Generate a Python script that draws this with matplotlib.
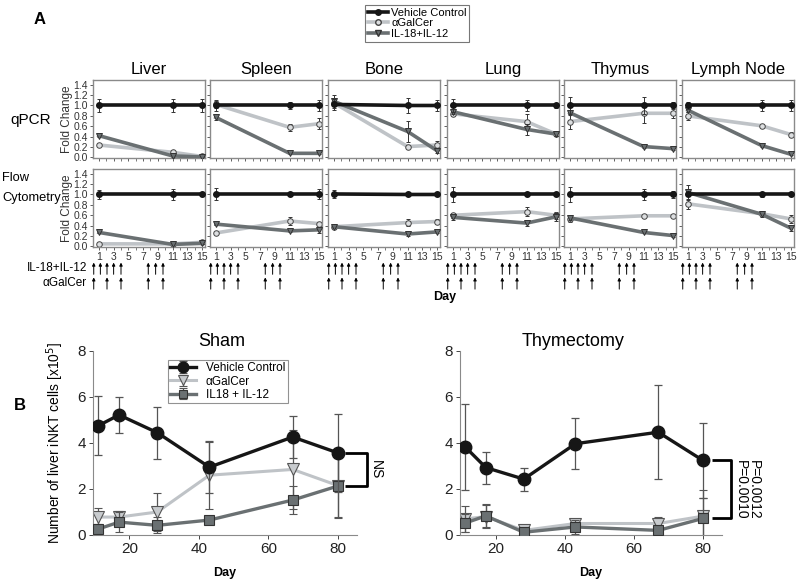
import numpy as np
import matplotlib.pyplot as plt
import matplotlib.transforms as mtransforms
from matplotlib.lines import Line2D

# ---- panel A data (fold change, days 1 / 11 / 15) ----
tissues = ["Liver", "Spleen", "Bone", "Lung", "Thymus", "Lymph Node"]
days_a = [1, 11, 15]

qpcr_veh = [[1.0, 1.0, 1.0], [1.0, 1.0, 1.0], [1.02, 1.0, 1.0],
            [1.0, 1.0, 1.0], [1.0, 1.0, 1.0], [1.0, 1.0, 1.0]]
qpcr_veh_err = [[0.12, 0.13, 0.13], [0.1, 0.06, 0.1], [0.1, 0.15, 0.1],
                [0.12, 0.1, 0.05], [0.17, 0.17, 0.06], [0.06, 0.1, 0.1]]
qpcr_gal = [[0.24, 0.10, 0.02], [1.02, 0.58, 0.65], [1.05, 0.21, 0.24],
            [0.84, 0.69, 0.45], [0.69, 0.85, 0.85], [0.80, 0.61, 0.44]]
qpcr_gal_err = [[0.02, 0.03, 0.02], [0.07, 0.07, 0.1], [0.05, 0.03, 0.08],
                [0.05, 0.15, 0.03], [0.15, 0.18, 0.1], [0.07, 0.03, 0.05]]
qpcr_il = [[0.42, 0.03, 0.01], [0.77, 0.08, 0.08], [1.08, 0.50, 0.13],
           [0.88, 0.54, 0.45], [0.86, 0.21, 0.17], [0.91, 0.23, 0.06]]
qpcr_il_err = [[0.03, 0.02, 0.01], [0.05, 0.02, 0.02], [0.12, 0.2, 0.05],
               [0.04, 0.1, 0.03], [0.04, 0.02, 0.02], [0.04, 0.02, 0.02]]

flow_veh = [[1.0, 1.0, 1.0], [1.01, 1.01, 1.01], [1.01, 1.0, 1.0],
            [1.0, 1.0, 1.0], [1.0, 1.0, 1.0], [1.0, 1.0, 1.0]]
flow_veh_err = [[0.08, 0.1, 0.03], [0.12, 0.02, 0.1], [0.08, 0.02, 0.02],
                [0.15, 0.02, 0.03], [0.15, 0.1, 0.07], [0.03, 0.04, 0.03]]
flow_gal = [[0.05, 0.05, 0.08], [0.26, 0.49, 0.44], [0.38, 0.46, 0.48],
            [0.60, 0.67, 0.60], [0.53, 0.59, 0.59], [0.82, 0.63, 0.53]]
flow_gal_err = [[0.02, 0.02, 0.02], [0.02, 0.08, 0.03], [0.03, 0.06, 0.05],
                [0.05, 0.08, 0.07], [0.05, 0.03, 0.03], [0.1, 0.03, 0.08]]
flow_il = [[0.27, 0.04, 0.06], [0.43, 0.30, 0.32], [0.38, 0.24, 0.28],
           [0.56, 0.45, 0.57], [0.55, 0.27, 0.21], [1.04, 0.62, 0.35]]
flow_il_err = [[0.02, 0.02, 0.02], [0.02, 0.03, 0.06], [0.02, 0.03, 0.03],
               [0.05, 0.06, 0.08], [0.05, 0.02, 0.02], [0.15, 0.06, 0.06]]

# dosing days shown as arrows
il_dose_days = [0.3, 1.2, 2.1, 3.0, 4.0, 7.7, 8.7, 9.7]
gal_dose_days = [0.3, 2.1, 4.0, 7.7, 9.7]

# ---- panel B data (liver iNKT cells x10^5) ----
b_days = [11, 17, 28, 43, 67, 80]
sham_veh = [4.75, 5.22, 4.45, 2.95, 4.26, 3.57]
sham_veh_err = [1.28, 0.8, 1.13, 1.12, 0.9, 1.68]
sham_gal = [0.78, 0.78, 1.0, 2.6, 2.85, 2.15]
sham_gal_err = [0.4, 0.25, 0.82, 1.45, 1.7, 1.4]
sham_il = [0.26, 0.56, 0.42, 0.65, 1.52, 2.13]
sham_il_err = [0.2, 0.45, 0.35, 0.1, 0.6, 1.35]

thy_veh = [3.83, 2.93, 2.43, 3.97, 4.47, 3.24]
thy_veh_err = [1.87, 0.7, 0.5, 1.1, 2.05, 1.63]
thy_gal = [0.7, 0.8, 0.2, 0.5, 0.5, 0.82]
thy_gal_err = [0.55, 0.5, 0.1, 0.2, 0.3, 1.15]
thy_il = [0.52, 0.83, 0.12, 0.35, 0.2, 0.72]
thy_il_err = [0.4, 0.5, 0.1, 0.3, 0.15, 0.9]

C_VEH = "#161616"
C_GAL = "#bfc3c7"
C_IL = "#6a7072"
C_SPINE = "#8a8a8a"
W, H = 800, 584

plt.rcParams["font.family"] = ["Liberation Sans", "DejaVu Sans"]
fig = plt.figure(figsize=(8, 5.84), dpi=100)


def px_axes(x0, y0, x1, y1):
    return fig.add_axes([x0 / W, 1 - y1 / H, (x1 - x0) / W, (y1 - y0) / H])


def style_a(ax, first, bottom):
    ax.set_xlim(0.2, 15.4)
    ax.set_ylim(-0.01, 1.49)
    ax.set_xticks(range(1, 16, 2))
    ax.set_xticks(range(1, 16), minor=True)
    ax.set_yticks(np.arange(0, 1.41, 0.2))
    for s in ax.spines.values():
        s.set_color(C_SPINE)
        s.set_linewidth(1.0)
    ax.tick_params(length=2.5, width=0.6, color="#444", labelsize=7.5,
                   pad=1, labelcolor="#333")
    ax.tick_params(which="minor", length=2, width=0.5, color="#444")
    if first:
        ax.set_yticklabels([f"{v:.1f}" for v in np.arange(0, 1.41, 0.2)])
        ax.set_ylabel("Fold Change", fontsize=8.5, color="#333", labelpad=0.5)
    else:
        ax.set_yticklabels([])
    if not bottom:
        ax.set_xticklabels([])


def draw_a(ax, veh, veh_e, gal, gal_e, il, il_e):
    ekw = dict(ecolor="#333", elinewidth=0.7, capsize=1.5, capthick=0.7)
    ax.errorbar(days_a, gal, yerr=gal_e, color=C_GAL, lw=2.6, marker="o",
                ms=4, mfc="#dcdee0", mec="#444", mew=0.7, zorder=2, **ekw)
    ax.errorbar(days_a, il, yerr=il_e, color=C_IL, lw=2.6, marker="v",
                ms=4, mfc=C_IL, mec="#333", mew=0.7, zorder=3, **ekw)
    ax.errorbar(days_a, veh, yerr=veh_e, color=C_VEH, lw=2.6, marker="o",
                ms=4, mfc=C_VEH, mec=C_VEH, zorder=4, **ekw)


col_left = [93, 210, 328, 447, 564, 682]
for i, name in enumerate(tissues):
    x0 = col_left[i]
    ax_q = px_axes(x0, 80, x0 + 112, 158)
    draw_a(ax_q, qpcr_veh[i], qpcr_veh_err[i], qpcr_gal[i], qpcr_gal_err[i],
           qpcr_il[i], qpcr_il_err[i])
    style_a(ax_q, i == 0, False)
    ax_q.set_title(name, fontsize=12, pad=4)

    ax_f = px_axes(x0, 169, x0 + 112, 247)
    draw_a(ax_f, flow_veh[i], flow_veh_err[i], flow_gal[i], flow_gal_err[i],
           flow_il[i], flow_il_err[i])
    style_a(ax_f, i == 0, True)

    trans = mtransforms.blended_transform_factory(ax_f.transData, ax_f.transAxes)
    akw = dict(arrowstyle="-|>", lw=0.7, color="black", mutation_scale=4.5,
               shrinkA=0, shrinkB=0)
    for d in il_dose_days:
        ax_f.annotate("", xy=(d, -0.2), xytext=(d, -0.35), xycoords=trans,
                      textcoords=trans, arrowprops=akw, annotation_clip=False)
    for d in gal_dose_days:
        ax_f.annotate("", xy=(d, -0.39), xytext=(d, -0.54), xycoords=trans,
                      textcoords=trans, arrowprops=akw, annotation_clip=False)

fig.text(87 / W, 1 - 268 / H, "IL-18+IL-12", ha="right", va="center", fontsize=8.5)
fig.text(87 / W, 1 - 283 / H, "\u03b1GalCer", ha="right", va="center", fontsize=8.5)
fig.text(445 / W, 1 - 297 / H, "Day", ha="center", va="center", fontsize=9,
         fontweight="bold")
fig.text(10 / W, 1 - 120 / H, "qPCR", ha="left", va="center", fontsize=11)
fig.text(2 / W, 1 - 188 / H, "Flow\nCytometry", ha="left", va="center",
         fontsize=9.3, linespacing=1.8)
fig.text(40 / W, 1 - 20 / H, "A", ha="center", va="center", fontsize=12,
         fontweight="bold")
fig.text(20 / W, 1 - 406 / H, "B", ha="center", va="center", fontsize=12,
         fontweight="bold")

leg_a = [Line2D([], [], color=C_VEH, lw=2.6, marker="o", ms=4, mfc=C_VEH),
         Line2D([], [], color=C_GAL, lw=2.6, marker="o", ms=4, mfc="#dcdee0",
                mec="#444"),
         Line2D([], [], color=C_IL, lw=2.6, marker="v", ms=4, mfc=C_IL,
                mec="#333")]
fig.legend(leg_a, ["Vehicle Control", "\u03b1GalCer", "IL-18+IL-12"],
           loc="upper left", bbox_to_anchor=(365 / W, 1 - 5 / H), fontsize=8,
           frameon=True, fancybox=False, edgecolor="#555", handlelength=1.8,
           handletextpad=0.3, borderpad=0.25, labelspacing=0.05,
           borderaxespad=0).get_frame().set_linewidth(0.8)


# ---- panel B ----
def draw_b(ax, veh, veh_e, gal, gal_e, il, il_e):
    ekw = dict(ecolor="#555", elinewidth=0.9, capsize=3, capthick=0.9)
    ax.errorbar(b_days, gal, yerr=gal_e, color=C_GAL, lw=2.2, marker="v",
                ms=9, mfc="#c8cbce", mec="#555", mew=0.8, zorder=2,
                label="\u03b1GalCer", **ekw)
    ax.errorbar(b_days, il, yerr=il_e, color=C_IL, lw=2.4, marker="s",
                ms=7.5, mfc=C_IL, mec="#333", mew=0.8, zorder=3,
                label="IL18 + IL-12", **ekw)
    ax.errorbar(b_days, veh, yerr=veh_e, color=C_VEH, lw=2.4, marker="o",
                ms=9, mfc=C_VEH, mec=C_VEH, zorder=4,
                label="Vehicle Control", **ekw)
    ax.set_xlim(9.5, 85.5)
    ax.set_ylim(0, 8)
    ax.set_xticks([20, 40, 60, 80])
    ax.set_yticks([0, 2, 4, 6, 8])
    for s in ["top", "right"]:
        ax.spines[s].set_visible(False)
    for s in ["left", "bottom"]:
        ax.spines[s].set_color(C_SPINE)
    ax.tick_params(length=3, width=0.7, color="#444", labelsize=11, pad=2,
                   labelcolor="#222")
    ax.set_xlabel("Day", fontsize=9, fontweight="bold", labelpad=8)


ax_s = px_axes(93, 351, 357, 535)
draw_b(ax_s, sham_veh, sham_veh_err, sham_gal, sham_gal_err, sham_il, sham_il_err)
ax_s.set_ylabel("Number of liver iNKT cells [x10$^5$]", fontsize=10, labelpad=8)
h, l = ax_s.get_legend_handles_labels()
order = [2, 0, 1]
lg = ax_s.legend([h[k] for k in order], [l[k] for k in order], loc="upper left",
                 bbox_to_anchor=(168 / W, 1 - 360 / H),
                 bbox_transform=fig.transFigure, fontsize=8.5, frameon=True,
                 fancybox=False, edgecolor="#777", handlelength=2.2,
                 markerscale=0.85, borderpad=0.2, labelspacing=0.1,
                 borderaxespad=0)
lg.get_frame().set_linewidth(0.8)

ax_t = px_axes(460, 351, 722, 535)
draw_b(ax_t, thy_veh, thy_veh_err, thy_gal, thy_gal_err, thy_il, thy_il_err)

fig.text(222 / W, 1 - 341 / H, "Sham", ha="center", va="center", fontsize=13)
fig.text(573 / W, 1 - 341 / H, "Thymectomy", ha="center", va="center", fontsize=13)

# significance brackets
bkw = dict(color="black", lw=2, clip_on=False, solid_capstyle="butt")
top, bot = sham_veh[-1], sham_il[-1]
ax_s.plot([82, 88.5, 88.5, 82], [top, top, bot, bot], **bkw)
ax_s.text(91, (top + bot) / 2, "NS", rotation=-90, ha="center", va="center",
          fontsize=10)
top, bot = thy_veh[-1], thy_il[-1]
ax_t.plot([82.6, 88.2, 88.2, 82.6], [top, top, bot, bot], **bkw)
ax_t.text(91.0, (top + bot) / 2, "P=0.0010", rotation=-90, ha="center",
          va="center", fontsize=10)
ax_t.text(94.8, (top + bot) / 2, "P=0.0012", rotation=-90, ha="center",
          va="center", fontsize=10)

fig.savefig("out.png", dpi=100)
